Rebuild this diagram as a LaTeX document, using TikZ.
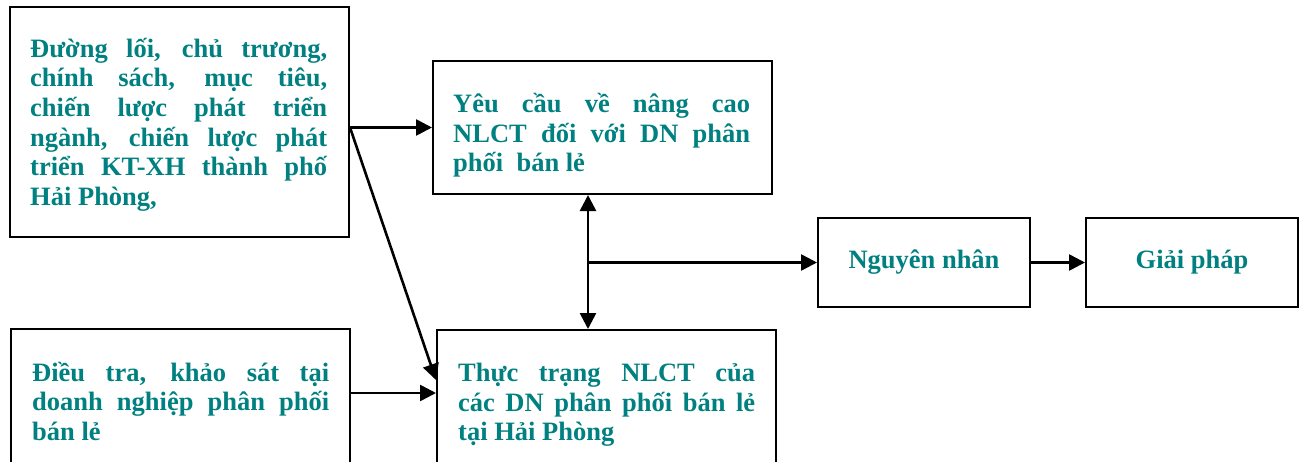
\documentclass[tikz,border=0pt]{standalone}
\usepackage{fontspec}
\setmainfont{Liberation Serif}
\usetikzlibrary{arrows.meta}
\definecolor{tealtxt}{RGB}{0,128,128}

% one justified line of a text block
\newcommand{\jline}[1]{\makebox[297pt][s]{#1}}
% first line carries a fixed-height strut so the block top is known
\newcommand{\topstrut}{\rule{0pt}{30pt}}

\begin{document}
\begin{tikzpicture}[x=1pt,y=-1pt,
  box/.style={draw=black, line width=2pt, rectangle, inner sep=0pt, anchor=north west},
  txt/.style={text=tealtxt, font=\bfseries\fontsize{26.5}{29.6}\selectfont,
              inner sep=0pt, anchor=north west, align=left},
  ctxt/.style={text=tealtxt, font=\bfseries\fontsize{26.5}{29.6}\selectfont},
  conn/.style={draw=black, line width=2.6pt, -{Triangle[length=16pt,width=16pt]}},
  both/.style={draw=black, line width=2.6pt, {Triangle[length=16pt,width=16pt]}-{Triangle[length=16pt,width=16pt]}}]

\useasboundingbox (0,0) rectangle (1299,461);

% frames
\node[box, minimum width=339pt, minimum height=230pt] (A) at (9,6) {};
\node[box, minimum width=339pt, minimum height=133pt] (B) at (432,60) {};
\node[box, minimum width=339pt, minimum height=150pt] (C) at (10,328) {};
\node[box, minimum width=339pt, minimum height=150pt] (D) at (436,329) {};
\node[box, minimum width=212pt, minimum height=89pt, ctxt] (E) at (817,217) {Nguyên nhân};
\node[box, minimum width=212pt, minimum height=89pt, ctxt] (F) at (1085,217) {Giải pháp};

% texts
\node[txt] (At) at (30,27) {\jline{\topstrut Đường lối, chủ trương,}\\
  \jline{chính sách, mục tiêu,}\\
  \jline{chiến lược phát triển}\\
  \jline{ngành, chiến lược phát}\\
  \jline{triển KT-XH thành phố}\\
  Hải Phòng,};
\node[txt] (Bt) at (453,82.5) {\jline{\topstrut Yêu cầu về nâng cao}\\
  \jline{NLCT đối với DN phân}\\
  phối~ bán lẻ};
\node[txt] (Ct) at (32,351) {\jline{\topstrut Điều tra, khảo sát tại}\\
  \jline{doanh nghiệp phân phối}\\
  bán lẻ};
\node[txt] (Dt) at (458,351.5) {\jline{\topstrut Thực trạng NLCT của}\\
  \jline{các DN phân phối bán lẻ}\\
  tại Hải Phòng};

% helper coordinates for connector positions
\coordinate (ab) at (A.east |- B.west);
\coordinate (dy) at (0,380);
\coordinate (cy) at (0,393);
\coordinate (vx) at (588,0);

% connectors
\draw[conn] (ab) -- (B.west);
\draw[conn] (ab) -- (D.west |- dy);
\draw[conn] (C.east |- cy) -- (D.west |- cy);
\draw[both] (B.south -| vx) -- (D.north -| vx);
\draw[conn] (vx |- E.west) -- (E.west);
\draw[conn] (E.east) -- (F.west);
\end{tikzpicture}
\end{document}
